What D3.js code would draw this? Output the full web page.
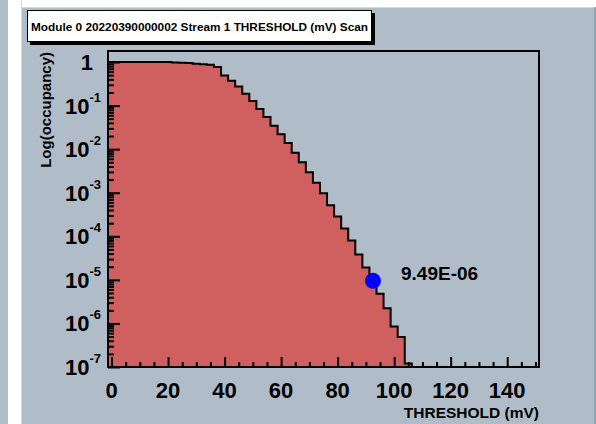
<!DOCTYPE html>
<html><head><meta charset="utf-8">
<script src="https://cdn.jsdelivr.net/npm/d3@7"></script>
<style>
body{margin:0;background:#fff}
svg{display:block}
text{font-family:"Liberation Sans",Arial,Helvetica,sans-serif}
</style>
</head><body>
<svg id="c" width="596" height="424"></svg>
<script>
// ---------- data ----------
const thresholds = [0,2.5,5,7.5,10,12.5,15,17.5,20,22.5,25,27.5,30,32.5,35,37.5,40,42.5,45,47.5,
  50,52.5,55,57.5,60,62.5,65,67.5,70,72.5,75,77.5,80,82.5,85,87.5,90,92.5,95,97.5,
  100,102.5,105,107.5,110,112.5,115,117.5,120,122.5,125,127.5,130,132.5,135,137.5,140,142.5,145,147.5,150];
const occupancy = [1,1,1,1,1,1,1,1,1,0.97,0.96,0.95,0.915,0.885,0.87,0.77,0.49,0.37,0.275,0.187,
  0.128,0.0836,0.0548,0.0346,0.0219,0.0139,0.0083,0.0050,0.00296,0.00169,0.00097,0.000517,0.000284,0.00015,7.96e-5,3.81e-5,1.92e-5,9.49e-6,4.8e-6,2.24e-6,
  8.5e-7,4.9e-7,1.2e-7,0,0,0,0,0,0,0,0,0,0,0,0,0,0,0,0,0,0];
const markerThreshold = [92.5];
const markerOccupancy = [9.49e-6];
const markerLabels = ["9.49E-06"];
const xTickValues = [0,20,40,60,80,100,120,140];
const yTickExponents = [-7,-6,-5,-4,-3,-2,-1,0];
const titleText = "Module 0 20220390000002 Stream 1 THRESHOLD (mV) Scan";
const xTitle = "THRESHOLD (mV)";
const yTitle = "Log(occupancy)";
const binWidth = 2.5;

// ---------- layout ----------
const W = 596, H = 424;
const L = 108, R = 539, T = 51, B = 367;
const bg = "#b0bdc8", fillRed = "#d05f5f";

const svg = d3.select("#c");

// canvas background
svg.append("rect").attr("x",0).attr("y",0).attr("width",W).attr("height",H).attr("fill",bg);
svg.append("rect").attr("x",8).attr("y",0).attr("width",13).attr("height",H).attr("fill","#ffffff");
svg.append("rect").attr("x",21).attr("y",0).attr("width",1).attr("height",H).attr("fill","#d3dae0");
svg.append("rect").attr("x",22).attr("y",0).attr("width",W-22).attr("height",7).attr("fill","#ffffff");
svg.append("rect").attr("x",22).attr("y",7).attr("width",W-22).attr("height",1).attr("fill","#d3dae0");
svg.append("rect").attr("x",W-2).attr("y",7).attr("width",2).attr("height",H-7).attr("fill","#97a5b1");

// scales
const x = d3.scaleLinear().domain([-1.25, 151.25]).range([L, R]);
const y = d3.scaleLog().domain([1e-7, 1.79]).range([B, T]).clamp(true);
const yv = v => v > 0 ? y(v) : B;

// histogram path
const pts = [];
pts.push([x(thresholds[0]-binWidth/2), B]);
thresholds.forEach((t,i)=>{
  pts.push([x(t-binWidth/2), yv(occupancy[i])]);
  pts.push([x(t+binWidth/2), yv(occupancy[i])]);
});
pts.push([x(thresholds[thresholds.length-1]+binWidth/2), B]);
const line = d3.line();

svg.append("defs").append("clipPath").attr("id","clip")
  .append("rect").attr("x",L).attr("y",T).attr("width",R-L).attr("height",B-T);

const g = svg.append("g").attr("clip-path","url(#clip)");
g.append("path").attr("d", line(pts)+"Z").attr("fill",fillRed).attr("stroke","none");
g.append("path").attr("d", line(pts)).attr("fill","none").attr("stroke","#000").attr("stroke-width",2);

// frame
svg.append("rect").attr("x",L).attr("y",T).attr("width",R-L).attr("height",B-T)
  .attr("fill","none").attr("stroke","#000").attr("stroke-width",2);

// x axis ticks (inside)
const xMajor = d3.axisBottom(x).tickValues(xTickValues).tickSize(-10).tickFormat("");
const xMinor = d3.axisBottom(x).tickValues(x.ticks(30).filter(v=>v>=0 && v<=150 && v%20!==0)).tickSize(-5).tickFormat("");
[xMajor,xMinor].forEach(ax=>{
  const a = svg.append("g").attr("transform",`translate(0,${B})`).call(ax);
  a.select(".domain").remove();
  a.selectAll("line").attr("stroke","#000").attr("stroke-width",2);
});
// x labels
svg.append("g").selectAll("text").data(xTickValues).join("text")
  .attr("x", d=>x(d)).attr("y", 398)
  .attr("text-anchor","middle").attr("font-size",22).attr("font-weight","bold").attr("fill","#000")
  .text(d=>d);

// y axis ticks (inside)
const yMajorVals = yTickExponents.map(e=>Math.pow(10,e));
const yMinorVals = y.ticks().filter(v=>{const l=Math.log10(v);return Math.abs(l-Math.round(l))>1e-6;});
const yMajor = d3.axisLeft(y).tickValues(yMajorVals).tickSize(-12).tickFormat("");
const yMinor = d3.axisLeft(y).tickValues(yMinorVals).tickSize(-6).tickFormat("");
[yMajor,yMinor].forEach(ax=>{
  const a = svg.append("g").attr("transform",`translate(${L},0)`).call(ax);
  a.select(".domain").remove();
  a.selectAll("line").attr("stroke","#000").attr("stroke-width",2);
});
// y labels
const yl = svg.append("g").selectAll("text").data(yTickExponents).join("text")
  .attr("x", 101).attr("y", e=>y(Math.pow(10,e))+8)
  .attr("text-anchor","end").attr("font-size",22).attr("font-weight","bold").attr("fill","#000");
yl.each(function(e){
  const t = d3.select(this);
  if(e===0){ t.attr("x",93).text("1"); }
  else {
    t.append("tspan").text("10");
    t.append("tspan").attr("dy",-12).attr("font-size",13).text(String(e));
  }
});

// axis titles
svg.append("text").attr("x",R).attr("y",417.5).attr("text-anchor","end")
  .attr("font-size",15.5).attr("font-weight","bold").text(xTitle);
svg.append("text").attr("transform",`translate(51,${T+1}) rotate(-90)`).attr("text-anchor","end")
  .attr("font-size",15).attr("font-weight","bold").text(yTitle);

// marker
svg.append("g").selectAll("circle").data(markerThreshold).join("circle")
  .attr("cx",d=>x(d)).attr("cy",(d,i)=>y(markerOccupancy[i])).attr("r",8).attr("fill","#0000ff");
svg.append("g").selectAll("text").data(markerLabels).join("text")
  .attr("x",401).attr("y",(d,i)=>y(markerOccupancy[i])-0.5)
  .attr("font-size",19).attr("font-weight","bold").text(d=>d);

// title box
svg.append("rect").attr("x",30).attr("y",13).attr("width",345).attr("height",32).attr("fill","#000");
svg.append("rect").attr("x",27.5).attr("y",10.5).attr("width",344).attr("height",31).attr("fill","#fff").attr("stroke","#000").attr("stroke-width",1);
svg.append("text").attr("x",31).attr("y",31).attr("font-size",11.8).attr("font-weight","bold").text(titleText);
</script>
</body></html>
